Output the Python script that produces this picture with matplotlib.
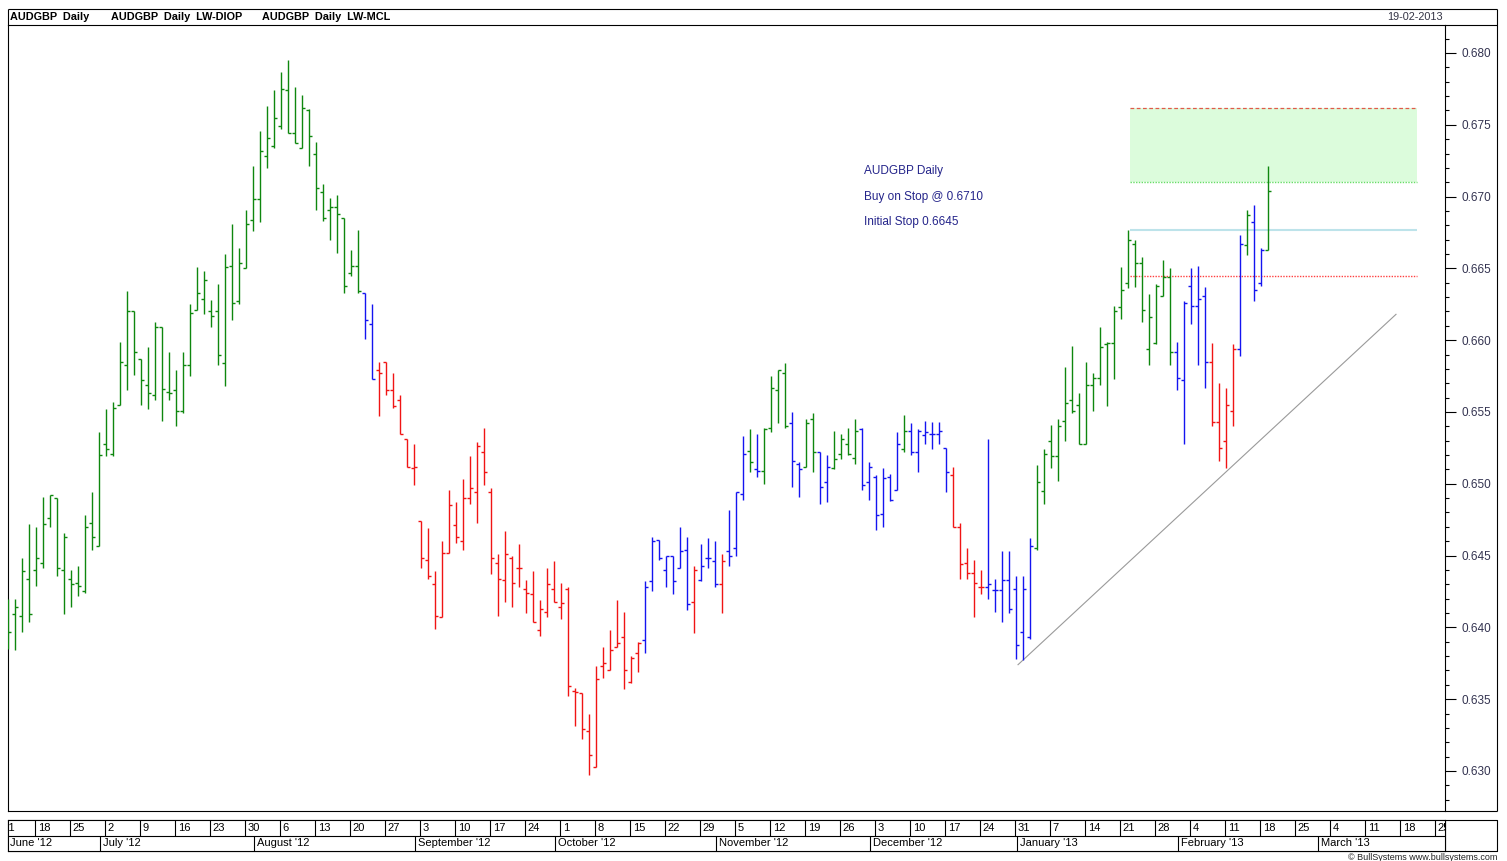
import numpy as np
import pandas as pd
import matplotlib
matplotlib.use("Agg")
import matplotlib.pyplot as plt
from matplotlib.collections import LineCollection
from matplotlib.ticker import MultipleLocator, FormatStrFormatter

plt.rcParams['font.family'] = ['Liberation Sans', 'DejaVu Sans']

# ---------------- data (AUDGBP daily, 12-06-2012 .. 19-02-2013) ----------------
dates = pd.bdate_range('2012-06-12', '2013-02-19')

opens = [
 0.6405,0.6409,0.6408,0.6434,0.6440,0.6445,0.6476,0.6490,0.6440,0.6434,
 0.6431,0.6425,0.6473,0.6457,0.6528,0.6521,0.6555,0.6583,0.6620,0.6587,
 0.6569,0.6562,0.6609,0.6564,0.6565,0.6551,0.6583,0.6621,0.6629,0.6620,
 0.6620,0.6584,0.6652,0.6627,0.6650,0.6684,0.6698,0.6728,0.6735,0.6749,
 0.6774,0.6744,0.6734,0.6760,0.6730,0.6703,0.6691,0.6693,0.6685,0.6647,
 0.6652,0.6633,0.6611,0.6579,0.6585,0.6565,0.6558,0.6531,0.6511,0.6474,
 0.6447,0.6430,0.6407,0.6452,0.6471,0.6460,0.6490,0.6494,0.6522,0.6494,
 0.6445,0.6433,0.6448,0.6441,0.6427,0.6423,0.6398,0.6411,0.6427,0.6414,
 0.6427,0.6356,0.6354,0.6328,0.6303,0.6373,0.6370,0.6386,0.6393,0.6362,
 0.6382,0.6391,0.6432,0.6461,0.6440,0.6450,0.6441,0.6454,0.6418,0.6433,
 0.6448,0.6446,0.6430,0.6453,0.6455,0.6493,0.6523,0.6510,0.6509,0.6539,
 0.6565,0.6577,0.6542,0.6514,0.6512,0.6545,0.6522,0.6501,0.6511,0.6521,
 0.6528,0.6518,0.6538,0.6501,0.6505,0.6479,0.6505,0.6496,0.6524,0.6537,
 0.6522,0.6534,0.6535,0.6535,0.6525,0.6506,0.6470,0.6445,0.6438,0.6428,
 0.6428,0.6426,0.6426,0.6433,0.6427,0.6397,0.6393,0.6455,0.6495,0.6530,
 0.6519,0.6544,0.6558,0.6555,0.6528,0.6569,0.6574,0.6597,0.6598,0.6623,
 0.6640,0.6667,0.6654,0.6594,0.6598,0.6631,0.6644,0.6592,0.6572,0.6638,
 0.6624,0.6631,0.6585,0.6543,0.6530,0.6551,0.6594,0.6666,0.6682,0.6640,
 0.6663]

highs = [
 0.6420,0.6420,0.6448,0.6472,0.6470,0.6491,0.6492,0.6490,0.6466,0.6440,
 0.6443,0.6478,0.6494,0.6536,0.6552,0.6557,0.6599,0.6634,0.6620,0.6587,
 0.6595,0.6613,0.6609,0.6592,0.6579,0.6592,0.6625,0.6651,0.6648,0.6628,
 0.6639,0.6660,0.6681,0.6664,0.6691,0.6721,0.6746,0.6763,0.6774,0.6787,
 0.6795,0.6776,0.6771,0.6761,0.6738,0.6709,0.6699,0.6701,0.6685,0.6663,
 0.6677,0.6633,0.6625,0.6585,0.6585,0.6577,0.6562,0.6531,0.6528,0.6474,
 0.6469,0.6439,0.6460,0.6496,0.6487,0.6503,0.6519,0.6529,0.6539,0.6497,
 0.6451,0.6467,0.6450,0.6458,0.6433,0.6439,0.6419,0.6441,0.6446,0.6431,
 0.6428,0.6358,0.6354,0.6340,0.6373,0.6386,0.6398,0.6419,0.6411,0.6380,
 0.6390,0.6432,0.6463,0.6461,0.6450,0.6450,0.6470,0.6463,0.6443,0.6458,
 0.6462,0.6460,0.6451,0.6482,0.6494,0.6533,0.6538,0.6535,0.6539,0.6575,
 0.6579,0.6584,0.6550,0.6515,0.6545,0.6549,0.6522,0.6520,0.6537,0.6535,
 0.6539,0.6545,0.6539,0.6515,0.6506,0.6511,0.6507,0.6536,0.6548,0.6542,
 0.6538,0.6544,0.6543,0.6543,0.6525,0.6512,0.6473,0.6455,0.6447,0.6440,
 0.6531,0.6434,0.6453,0.6453,0.6436,0.6436,0.6462,0.6513,0.6524,0.6541,
 0.6545,0.6581,0.6596,0.6563,0.6585,0.6577,0.6609,0.6599,0.6624,0.6651,
 0.6677,0.6670,0.6658,0.6632,0.6639,0.6656,0.6650,0.6599,0.6627,0.6650,
 0.6652,0.6637,0.6598,0.6570,0.6567,0.6597,0.6673,0.6691,0.6694,0.6664,
 0.6721]

lows = [
 0.6385,0.6384,0.6397,0.6404,0.6429,0.6441,0.6470,0.6436,0.6409,0.6414,
 0.6422,0.6424,0.6454,0.6457,0.6519,0.6519,0.6555,0.6565,0.6576,0.6555,
 0.6552,0.6558,0.6544,0.6558,0.6540,0.6549,0.6575,0.6621,0.6618,0.6609,
 0.6583,0.6568,0.6614,0.6625,0.6650,0.6676,0.6682,0.6720,0.6734,0.6747,
 0.6744,0.6737,0.6734,0.6721,0.6691,0.6683,0.6670,0.6661,0.6633,0.6645,
 0.6633,0.6601,0.6573,0.6547,0.6562,0.6553,0.6535,0.6512,0.6499,0.6441,
 0.6434,0.6399,0.6407,0.6452,0.6459,0.6454,0.6486,0.6473,0.6499,0.6437,
 0.6408,0.6418,0.6414,0.6428,0.6410,0.6404,0.6394,0.6407,0.6418,0.6406,
 0.6352,0.6331,0.6322,0.6297,0.6303,0.6365,0.6370,0.6386,0.6357,0.6361,
 0.6369,0.6382,0.6425,0.6447,0.6428,0.6423,0.6441,0.6412,0.6396,0.6432,
 0.6441,0.6428,0.6410,0.6443,0.6450,0.6489,0.6508,0.6505,0.6500,0.6536,
 0.6542,0.6539,0.6498,0.6491,0.6512,0.6508,0.6486,0.6487,0.6510,0.6517,
 0.6520,0.6514,0.6496,0.6489,0.6468,0.6470,0.6488,0.6496,0.6522,0.6520,
 0.6508,0.6528,0.6524,0.6528,0.6494,0.6470,0.6434,0.6434,0.6407,0.6423,
 0.6420,0.6411,0.6404,0.6410,0.6378,0.6377,0.6392,0.6454,0.6486,0.6511,
 0.6502,0.6530,0.6549,0.6528,0.6528,0.6551,0.6569,0.6554,0.6573,0.6615,
 0.6636,0.6637,0.6613,0.6583,0.6597,0.6631,0.6583,0.6565,0.6528,0.6611,
 0.6583,0.6567,0.6540,0.6516,0.6511,0.6540,0.6589,0.6659,0.6627,0.6638,
 0.6663]

closes = [
 0.6397,0.6414,0.6439,0.6409,0.6448,0.6472,0.6492,0.6441,0.6463,0.6430,
 0.6429,0.6470,0.6463,0.6520,0.6524,0.6553,0.6585,0.6620,0.6592,0.6572,
 0.6563,0.6609,0.6566,0.6563,0.6551,0.6583,0.6619,0.6633,0.6642,0.6617,
 0.6590,0.6651,0.6626,0.6654,0.6681,0.6698,0.6732,0.6741,0.6755,0.6775,
 0.6744,0.6737,0.6762,0.6742,0.6706,0.6685,0.6693,0.6688,0.6638,0.6652,
 0.6634,0.6614,0.6573,0.6577,0.6565,0.6554,0.6535,0.6512,0.6512,0.6448,
 0.6436,0.6408,0.6452,0.6485,0.6463,0.6490,0.6497,0.6526,0.6508,0.6448,
 0.6434,0.6451,0.6431,0.6441,0.6424,0.6404,0.6413,0.6430,0.6418,0.6417,
 0.6359,0.6355,0.6329,0.6311,0.6364,0.6375,0.6384,0.6389,0.6370,0.6379,
 0.6389,0.6428,0.6460,0.6448,0.6450,0.6432,0.6453,0.6416,0.6440,0.6443,
 0.6448,0.6430,0.6446,0.6450,0.6494,0.6521,0.6515,0.6509,0.6538,0.6567,
 0.6579,0.6540,0.6516,0.6510,0.6542,0.6522,0.6498,0.6512,0.6517,0.6531,
 0.6521,0.6537,0.6499,0.6512,0.6478,0.6504,0.6489,0.6528,0.6537,0.6522,
 0.6537,0.6536,0.6535,0.6537,0.6508,0.6470,0.6444,0.6438,0.6431,0.6428,
 0.6430,0.6426,0.6433,0.6413,0.6388,0.6427,0.6457,0.6501,0.6521,0.6519,
 0.6540,0.6556,0.6551,0.6528,0.6569,0.6574,0.6595,0.6598,0.6620,0.6635,
 0.6670,0.6654,0.6621,0.6616,0.6638,0.6644,0.6592,0.6574,0.6626,0.6624,
 0.6629,0.6585,0.6543,0.6525,0.6555,0.6594,0.6667,0.6687,0.6635,0.6663,
 0.6704]

# indicator colour of each bar: G = up trend, B = neutral, R = down trend
bar_state = ('G' * 51 + 'B' * 2 + 'R' * 38 + 'B' * 7 + 'R' + 'B' * 3 + 'R' + 'B' * 3 +
             'G' + 'B' + 'G' * 4 + 'B' * 2 + 'G' * 2 + 'B' * 2 + 'G' * 4 + 'B' * 6 + 'G' +
             'B' * 6 + 'R' * 5 + 'B' * 7 + 'G' * 20 + 'B' * 5 + 'R' * 4 + 'B' + 'G' + 'B' * 2 + 'G')

# trade set-up levels
target_level = 0.6762
buy_stop = 0.6710
swing_high = 0.6677
initial_stop = 0.6645
zone_start, zone_end = 160.3, 201.3          # in trading-day index
trend_x = [144.3, 198.3]
trend_y = [0.6374, 0.6618]

annotations = ["AUDGBP Daily", "Buy on Stop @ 0.6710", "Initial Stop 0.6645"]
ann_y = [0.6718, 0.6700, 0.6682]
ann_x = 122.3

header_titles = ["AUDGBP  Daily", "AUDGBP  Daily  LW-DIOP", "AUDGBP  Daily  LW-MCL"]
header_x = [10, 111, 262]
header_date = "19-02-2013"

# ---------------- figure ----------------
W, H = 1507, 861
fig = plt.figure(figsize=(W / 100, H / 100), dpi=100)
fig.patch.set_facecolor('white')

def fx(px):
    return px / W

def fy(py):
    return 1 - py / H

frame = fig.add_axes([0, 0, 1, 1], zorder=0)
frame.set_xlim(0, W)
frame.set_ylim(H, 0)
frame.axis('off')
k = dict(color='black', lw=0.8, solid_capstyle='butt')
frame.plot([8, 1497], [9, 9], **k)
frame.plot([8, 8], [9, 25], **k)
frame.plot([1497, 1497], [9, 811], **k)
frame.plot([1445, 1497], [25, 25], **k)
frame.plot([1445, 1497], [811, 811], **k)
frame.plot([8, 1497, 1497, 8, 8], [820, 820, 851, 851, 820], **k)
frame.plot([1445, 1445], [820, 851], **k)
for t, x in zip(header_titles, header_x):
    frame.text(x, 17, t, fontsize=7.8, fontweight='bold', va='center', ha='left')
frame.text(1443, 17, header_date, fontsize=7.8, va='center', ha='right', color='#333344')
frame.text(1497, 857, '\u00a9 BullSystems www.bullsystems.com', fontsize=6.5,
           va='center', ha='right', color='#222222')

# main price axes
ax = fig.add_axes([fx(8), fy(811), (1445 - 8) / W, (811 - 25) / H], zorder=2)
xmax = 205.3
ax.set_xlim(0, xmax)
ax.set_ylim(0.62721, 0.68195)
for s in ax.spines.values():
    s.set_linewidth(0.8)
ax.set_xticks([])
ax.yaxis.tick_right()
ax.yaxis.set_major_locator(MultipleLocator(0.005))
ax.yaxis.set_minor_locator(MultipleLocator(0.001))
ax.yaxis.set_major_formatter(FormatStrFormatter('%.3f'))
ax.tick_params(axis='y', which='major', length=8, width=0.8, direction='out',
               labelsize=8.5, pad=4, labelcolor='#333350')
ax.tick_params(axis='y', which='minor', length=3, width=0.8, direction='out')

# set-up zone and levels
ax.fill_between([zone_start, zone_end], buy_stop, target_level, color='#dcfcdc', lw=0, zorder=1)
ax.hlines(target_level, zone_start, zone_end, colors='#e05a4a', linestyles=(0, (3, 2)), lw=0.9, zorder=2)
ax.hlines(buy_stop, zone_start, zone_end, colors='#66dd66', linestyles=(0, (1, 1)), lw=1.0, zorder=2)
ax.hlines(swing_high, zone_start, zone_end, colors='#bde3ea', lw=1.5, zorder=2)
ax.hlines(initial_stop, zone_start, zone_end, colors='#ff4040', linestyles=(0, (1, 1)), lw=1.0, zorder=2)
ax.plot(trend_x, trend_y, color='#9a9a9a', lw=0.8, zorder=2)

# OHLC bars
colors = {'G': '#0e870e', 'B': '#1414f0', 'R': '#f01414'}
idx = np.arange(len(dates))
segs = {c: [] for c in colors}
tw = 0.45
for i in idx:
    c = bar_state[i]
    segs[c].append([(i, lows[i]), (i, highs[i])])
    segs[c].append([(i - tw, opens[i]), (i, opens[i])])
    segs[c].append([(i, closes[i]), (i + tw, closes[i])])
for c, sl in segs.items():
    ax.add_collection(LineCollection(sl, colors=colors[c], linewidths=1.0,
                                     capstyle='butt', zorder=3))

for t, yv in zip(annotations, ann_y):
    ax.text(ann_x, yv, t, fontsize=8.5, color='#24248a', va='center', ha='left')

# date panel
axd = fig.add_axes([fx(8), fy(851), (1445 - 8) / W, (851 - 820) / H], zorder=2)
axd.set_xlim(0, xmax)
axd.set_ylim(0, 1)
axd.set_xticks([])
axd.set_yticks([])
for s in axd.spines.values():
    s.set_linewidth(0.8)
axd.axhline(0.5, color='black', lw=0.8)

start = np.datetime64('2012-06-12')
mondays = pd.date_range('2012-06-11', '2013-03-25', freq='W-MON')
for m in mondays:
    pos = np.busday_count(start, np.datetime64(m.date())) - 0.15
    axd.vlines(pos, 0.5, 1, colors='black', lw=0.8)
    axd.text(pos + 0.4, 0.75, str(m.day), fontsize=8, va='center', ha='left', clip_on=True)

month_starts = pd.date_range('2012-06-01', '2013-03-01', freq='MS')
for m in month_starts:
    pos = np.busday_count(start, np.datetime64(m.date())) - 0.8
    if pos > 0:
        axd.vlines(pos, 0, 0.5, colors='black', lw=0.8)
    axd.text(max(pos, 0) + 0.35, 0.25, m.strftime("%B '%y"), fontsize=8,
             va='center', ha='left', clip_on=True)

fig.savefig('out.png', dpi=100, facecolor='white')
